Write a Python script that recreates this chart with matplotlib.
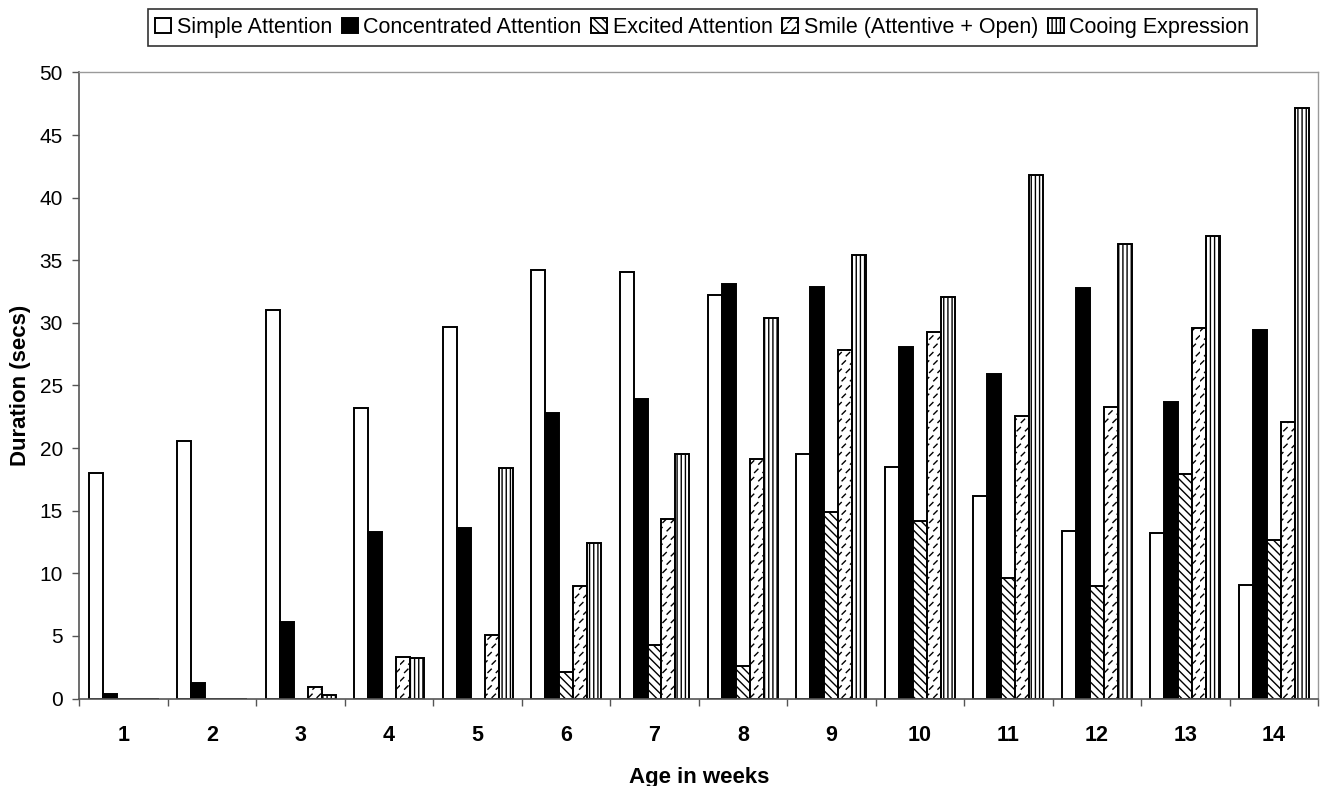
import warnings
import numpy as np
import matplotlib
matplotlib.use("Agg")
import matplotlib.pyplot as plt
from matplotlib import hatch as mhatch
from matplotlib.path import Path

warnings.filterwarnings("ignore")
plt.rcParams['font.family'] = ['Liberation Sans', 'DejaVu Sans']
plt.rcParams['hatch.linewidth'] = 1.0


class DashHatch(mhatch.HatchPatternBase):
    """Staggered grid of short diagonal dashes, selected with the 'd' character."""

    def __init__(self, hatch, density):
        self.n = hatch.count('d') * density
        self.num_lines = self.n * self.n
        self.num_vertices = self.num_lines * 2

    def set_vertices_and_codes(self, vertices, codes):
        n = self.n
        half = 0.2 / n
        k = 0
        for r in range(n):
            for c in range(n):
                cx = (c + 0.25 + 0.5 * (r % 2)) / n
                cy = (r + 0.5) / n
                vertices[k] = (cx - half, cy - half)
                vertices[k + 1] = (cx + half, cy + half)
                codes[k] = Path.MOVETO
                codes[k + 1] = Path.LINETO
                k += 2


mhatch._hatch_types.append(DashHatch)

weeks = [1, 2, 3, 4, 5, 6, 7, 8, 9, 10, 11, 12, 13, 14]
series_names = ["Simple Attention", "Concentrated Attention", "Excited Attention",
                "Smile (Attentive + Open)", "Cooing Expression"]

simple_attention = [18.0, 20.6, 31.0, 23.2, 29.7, 34.2, 34.1, 32.2, 19.5, 18.5, 16.2, 13.4, 13.2, 9.1]
concentrated_attention = [0.4, 1.2, 6.1, 13.3, 13.6, 22.8, 23.9, 33.1, 32.9, 28.1, 25.9, 32.8, 23.7, 29.4]
excited_attention = [0.0, 0.0, 0.0, 0.0, 0.0, 2.1, 4.3, 2.6, 14.9, 14.2, 9.6, 9.0, 17.9, 12.7]
smile = [0.0, 0.0, 0.9, 3.3, 5.1, 9.0, 14.3, 19.1, 27.8, 29.3, 22.6, 23.3, 29.6, 22.1]
cooing = [0.0, 0.0, 0.3, 3.2, 18.4, 12.4, 19.5, 30.4, 35.4, 32.1, 41.8, 36.3, 36.9, 47.2]

all_series = [simple_attention, concentrated_attention, excited_attention, smile, cooing]
styles = [
    dict(facecolor="white", hatch=None),
    dict(facecolor="black", hatch=None),
    dict(facecolor="white", hatch="\\\\\\\\"),
    dict(facecolor="white", hatch="dd"),
    dict(facecolor="white", hatch="||||"),
]

fig = plt.figure(figsize=(13.2, 7.86), dpi=100)
ax = fig.add_axes([0.0602, 0.1113, 0.9383, 0.7965])

x = np.arange(len(weeks))
bw = 0.158
handles = []
for i, (vals, st, name) in enumerate(zip(all_series, styles, series_names)):
    offs = (i - 2) * bw
    h = ax.bar(x + offs, vals, width=bw, facecolor=st["facecolor"], edgecolor="black",
               hatch=st["hatch"], linewidth=1.4, label=name)
    handles.append(h)

ax.set_xlim(-0.5, len(weeks) - 0.5)
ax.set_ylim(0, 50)
ax.set_yticks(np.arange(0, 51, 5))
ax.set_xticks(x)
ax.set_xticklabels([str(w) for w in weeks], fontsize=15.5, fontweight="bold")
ax.set_xticks(np.arange(-0.5, len(weeks)), minor=True)
ax.tick_params(axis="x", which="major", length=0, pad=19)
ax.tick_params(axis="x", which="minor", length=5, width=1, direction="out", color="#555555")
ax.tick_params(axis="y", labelsize=15, length=5, width=1, direction="out",
               color="#555555", pad=7)

for side in ["top", "right"]:
    ax.spines[side].set_color("#9a9a9a")
    ax.spines[side].set_linewidth(1.0)
ax.spines["left"].set_color("#555555")
ax.spines["bottom"].set_color("#555555")
ax.spines["left"].set_linewidth(1.2)
ax.spines["bottom"].set_linewidth(1.2)

ax.set_xlabel("Age in weeks", fontsize=16, fontweight="bold", labelpad=15)
ax.set_ylabel("Duration (secs)", fontsize=16, fontweight="bold", labelpad=6)

leg = fig.legend(handles=handles, labels=series_names, loc="center",
                 bbox_to_anchor=(0.532, 0.965), ncol=5, fontsize=15.5,
                 frameon=True, fancybox=False, edgecolor="black",
                 handlelength=0.75, handleheight=0.75, handletextpad=0.25,
                 columnspacing=0.45, borderpad=0.35, borderaxespad=0.2)
leg.get_frame().set_linewidth(1.2)

fig.savefig("out.png", dpi=100, facecolor="white")
